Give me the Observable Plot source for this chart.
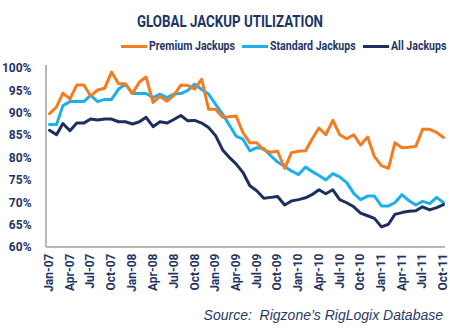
<!DOCTYPE html>
<html><head><meta charset="utf-8">
<script src="https://cdn.jsdelivr.net/npm/d3@7"></script>
<script src="https://cdn.jsdelivr.net/npm/@observablehq/plot@0.6"></script>
<style>
body{margin:0;background:#fff;}
#wrap{position:relative;width:450px;height:331px;overflow:hidden;font-family:Roboto,"Noto Sans",sans-serif;font-weight:bold;color:#1f3566;}
#title{position:absolute;top:11px;font-size:17px;line-height:20px;color:#1b3567;white-space:nowrap;transform-origin:0 50%;}
#legend{position:absolute;left:0;top:38px;width:450px;height:16px;font-size:12px;line-height:16px;}
#legend .sw{position:absolute;top:7px;width:26px;height:3px;}
#legend .tx{position:absolute;top:0;white-space:nowrap;transform-origin:0 50%;}
#chart{position:absolute;left:0;top:57px;}
#source{position:absolute;right:7px;top:306px;font-family:"Liberation Sans",Arial,sans-serif;font-weight:normal;font-style:italic;font-size:14px;line-height:18px;color:#2a3a66;white-space:pre;}
</style></head>
<body><div id="wrap">
<div id="title">GLOBAL JACKUP UTILIZATION</div>
<div id="legend"></div>
<div id="chart"></div>
<div id="source">Source:  Rigzone’s RigLogix Database</div>
</div>
<script>
const seriesNames = ["Premium Jackups", "Standard Jackups", "All Jackups"];
const seriesColors = ["#f47c20", "#1ab0ea", "#1c2f5e"];
const firstMonth = "Jan-07";
const premium = [89.9, 91.4, 94.5, 93.2, 96.3, 96.3, 93.9, 95.2, 95.6, 99.2, 96.6, 96.6,
  94.4, 97.0, 98.1, 92.4, 93.8, 92.7, 94.0, 96.3, 96.2, 95.4, 97.6, 90.9,
  90.9, 89.1, 89.2, 89.4, 85.7, 83.4, 83.4, 81.8, 81.3, 81.5, 77.7, 81.2,
  81.5, 81.6, 84.2, 86.7, 85.2, 88.4, 85.2, 84.3, 85.2, 82.9, 84.7, 80.3,
  78.3, 77.7, 83.4, 82.3, 82.4, 82.6, 86.4, 86.4, 85.7, 84.6];
const standard = [87.5, 87.5, 91.7, 92.6, 92.6, 92.6, 94.0, 92.6, 93.1, 93.1, 95.4, 96.5,
  94.4, 94.4, 94.4, 93.5, 94.3, 93.5, 94.3, 94.4, 95.1, 96.5, 95.3, 94.3,
  92.0, 89.8, 87.5, 84.9, 84.2, 81.6, 82.3, 82.1, 80.5, 79.1, 78.1, 77.1,
  76.3, 78.0, 77.0, 76.1, 75.1, 76.5, 75.8, 74.5, 72.1, 70.7, 71.5, 71.5,
  69.3, 69.3, 70.0, 71.8, 70.5, 69.5, 70.3, 69.8, 71.2, 70.0];
const all = [86.2, 85.2, 87.7, 86.1, 87.8, 87.8, 88.7, 88.5, 88.7, 88.7, 88.1, 88.1,
  87.6, 88.1, 89.1, 87.0, 88.1, 87.8, 88.6, 89.5, 88.3, 88.4, 87.8, 86.8,
  85.0, 81.8, 80.2, 78.7, 76.8, 73.8, 72.7, 71.0, 71.2, 71.4, 69.5, 70.4,
  70.7, 71.1, 71.8, 72.9, 72.0, 72.9, 70.7, 70.0, 69.1, 67.7, 67.1, 66.5,
  64.6, 65.2, 67.4, 67.8, 68.1, 68.2, 69.1, 68.4, 68.9, 69.6];
const xTickLabels = ["Jan-07","Apr-07","Jul-07","Oct-07","Jan-08","Apr-08","Jul-08","Oct-08",
  "Jan-09","Apr-09","Jul-09","Oct-09","Jan-10","Apr-10","Jul-10","Oct-10",
  "Jan-11","Apr-11","Jul-11","Oct-11"];
const yTicks = [60, 65, 70, 75, 80, 85, 90, 95, 100];

const parse = d3.utcParse("%b-%y");
const fmt = d3.utcFormat("%b-%y");
const start = parse(firstMonth);
const tickDates = xTickLabels.map(parse);
const seriesValues = [premium, standard, all];
const rows = [];
seriesValues.forEach((vals, s) => vals.forEach((v, i) => rows.push({series: seriesNames[s], date: d3.utcMonth.offset(start, i), value: v})));
const drawOrder = ["Standard Jackups", "All Jackups", "Premium Jackups"];

// title: condensed to the reference's width, centred at x=230
const title = document.getElementById("title");
const tw = title.getBoundingClientRect().width;
const tk = 186 / tw;
title.style.transform = `scaleX(${tk})`;
title.style.left = (230 - 93) + "px";

// legend
const leg = document.getElementById("legend");
let k = null, x = 121;
seriesNames.forEach((n, i) => {
  const sw = document.createElement("span"); sw.className = "sw";
  sw.style.background = seriesColors[i]; sw.style.left = x + "px";
  leg.appendChild(sw);
  const tx = document.createElement("span"); tx.className = "tx"; tx.textContent = n;
  leg.appendChild(tx);
  const w = tx.getBoundingClientRect().width;
  if (k === null) k = 86 / w;
  tx.style.transform = `scaleX(${k})`;
  tx.style.left = (x + 28) + "px";
  x += 28 + w * k + 7;
});

const font = 'Roboto,"Noto Sans",sans-serif';
const chart = Plot.plot({
  width: 450, height: 240,
  marginLeft: 46, marginRight: 5, marginTop: 8, marginBottom: 50,
  x: {type: "utc", domain: [tickDates[0], tickDates[tickDates.length - 1]], insetLeft: 3, insetRight: 2},
  y: {domain: [60, 100], insetTop: 3},
  color: {domain: seriesNames, range: seriesColors},
  style: {fontFamily: font, fontSize: "12px", fontWeight: "bold", color: "#1f3566", background: "transparent", overflow: "visible"},
  marks: [
    Plot.axisY({ticks: yTicks, tickSize: 0, tickPadding: 15, tickFormat: d => d + "%", label: null, fill: "#1f3566"}),
    Plot.axisX({ticks: tickDates, tickSize: 0, tickPadding: 6, tickRotate: -90, tickFormat: fmt, label: null, fill: "#1f3566"}),
    (index, scales, values, dims) => {
      const g = d3.create("svg:g").attr("stroke", "#a0a0a0").attr("stroke-width", 1.5);
      const x0 = dims.marginLeft, y1 = dims.height - dims.marginBottom;
      g.append("line").attr("x1", x0).attr("x2", x0).attr("y1", dims.marginTop).attr("y2", y1);
      g.append("line").attr("x1", x0).attr("x2", dims.width - dims.marginRight).attr("y1", y1).attr("y2", y1);
      return g.node();
    },
    ...drawOrder.map(name => Plot.line(rows.filter(r => r.series === name), {x: "date", y: "value", stroke: "series", strokeWidth: 3, strokeLinejoin: "round"}))
  ]
});
document.getElementById("chart").appendChild(chart);
</script>
</body></html>
